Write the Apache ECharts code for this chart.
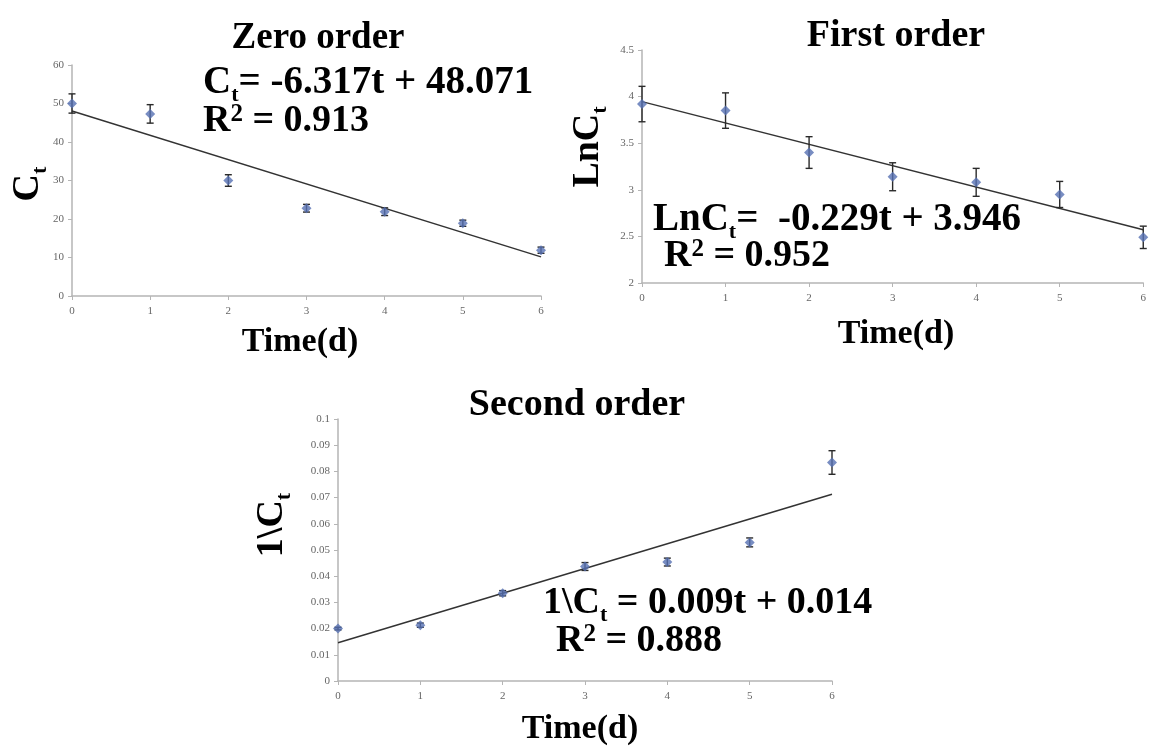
<!DOCTYPE html>
<html>
<head>
<meta charset="utf-8">
<script src="https://cdn.jsdelivr.net/npm/echarts@6/dist/echarts.min.js"></script>
<style>
html,body{margin:0;padding:0;background:#fff;}
#chart{width:1149px;height:749px;}
</style>
</head>
<body>
<div id="chart"></div>
<script>
// ---- data ----
const times = [0, 1, 2, 3, 4, 5, 6];
const xTicks = [0, 1, 2, 3, 4, 5, 6];

const zeroVals = [50, 47.3, 30, 22.8, 21.9, 18.9, 11.9];
const zeroErr = [2.5, 2.4, 1.5, 1.0, 1.0, 0.8, 0.8];
const zeroFit = [48.071, -6.317]; // intercept, slope

const firstVals = [3.92, 3.85, 3.40, 3.14, 3.08, 2.95, 2.49];
const firstErr = [0.19, 0.19, 0.17, 0.15, 0.15, 0.14, 0.12];
const firstFit = [3.946, -0.229];

const secondVals = [0.0200, 0.0213, 0.0335, 0.0437, 0.0454, 0.0529, 0.0834];
const secondErr = [0.0005, 0.0008, 0.0010, 0.0015, 0.0015, 0.0017, 0.0045];
const secondFit = [0.0146, 0.00945];

const zeroTicks = [0, 10, 20, 30, 40, 50, 60];
const firstTicks = [2, 2.5, 3, 3.5, 4, 4.5];
const secondTicks = [0, 0.01, 0.02, 0.03, 0.04, 0.05, 0.06, 0.07, 0.08, 0.09, 0.1];

// ---- helpers ----
const SERIF = 'Liberation Serif';
const MARK = '#5670b3';

function pts(vals) { return times.map((t, i) => [t, vals[i]]); }
function errs(vals, e) { return times.map((t, i) => [t, vals[i] - e[i], vals[i] + e[i]]); }
function fitLine(fit) { return [[times[0], fit[0] + fit[1] * times[0]], [times[times.length - 1], fit[0] + fit[1] * times[times.length - 1]]]; }

function errRender(params, api) {
  const x = api.value(0);
  const lo = api.coord([x, api.value(1)]);
  const hi = api.coord([x, api.value(2)]);
  const w = 3.5;
  const st = { stroke: '#2a2a2a', lineWidth: 1.4 };
  return {
    type: 'group',
    children: [
      { type: 'line', shape: { x1: lo[0], y1: lo[1], x2: hi[0], y2: hi[1] }, style: st },
      { type: 'line', shape: { x1: hi[0] - w, y1: hi[1], x2: hi[0] + w, y2: hi[1] }, style: st },
      { type: 'line', shape: { x1: lo[0] - w, y1: lo[1], x2: lo[0] + w, y2: lo[1] }, style: st }
    ]
  };
}

function xAxis(gi) {
  return {
    type: 'value', gridIndex: gi, min: xTicks[0], max: xTicks[xTicks.length - 1], interval: 1,
    axisLine: { show: true, lineStyle: { color: '#b5b5b5', width: 1.5 } },
    axisTick: { show: true, length: 4, lineStyle: { color: '#b5b5b5' } },
    axisLabel: { color: '#666', fontSize: 11, fontFamily: SERIF, margin: 10 },
    splitLine: { show: false }
  };
}
function yAxis(gi, ticks, dec) {
  return {
    type: 'value', gridIndex: gi, min: ticks[0], max: ticks[ticks.length - 1],
    interval: +(ticks[1] - ticks[0]).toFixed(4),
    axisLine: { show: true, lineStyle: { color: '#b5b5b5', width: 1.5 } },
    axisTick: { show: true, length: 4, lineStyle: { color: '#b5b5b5' } },
    axisLabel: { color: '#666', fontSize: 11, fontFamily: SERIF, margin: 8,
      formatter: v => String(+v.toFixed(dec)) },
    splitLine: { show: false }
  };
}

function seriesFor(gi, vals, e, fit) {
  return [
    { type: 'line', xAxisIndex: gi, yAxisIndex: gi, data: fitLine(fit), symbol: 'none',
      lineStyle: { color: '#333', width: 1.5 }, silent: true, z: 2 },
    { type: 'custom', xAxisIndex: gi, yAxisIndex: gi, data: errs(vals, e), renderItem: errRender, z: 3 },
    { type: 'scatter', xAxisIndex: gi, yAxisIndex: gi, data: pts(vals), symbol: 'diamond', symbolSize: 10,
      itemStyle: { color: MARK }, z: 4 }
  ];
}

// ---- text ----
const F = 38;
function makeRich(fs) {
  return {
    m: { fontFamily: SERIF, fontWeight: 'bold', fontSize: fs, lineHeight: 46, color: '#111' },
    s: { fontFamily: SERIF, fontWeight: 'bold', fontSize: 22, lineHeight: 22, verticalAlign: 'bottom', color: '#111' },
    p: { fontFamily: SERIF, fontWeight: 'bold', fontSize: 25, lineHeight: 40, verticalAlign: 'top', padding: [4, 0, 0, 0], color: '#111' }
  };
}
function txt(x, baseline, text, opts) {
  opts = opts || {};
  const fs = opts.fs || F;
  return {
    type: 'text', x: x, y: baseline - 0.305 * fs,
    style: { text: text, rich: makeRich(fs), align: opts.align || 'left', verticalAlign: 'middle' }
  };
}
function vtxt(x, y, text) {
  return { type: 'text', x: x, y: y, rotation: Math.PI / 2,
    style: { text: text, rich: makeRich(F), align: 'center', verticalAlign: 'middle' } };
}

const graphics = [
  txt(318, 50, '{m|Zero order}', { align: 'center', fs: 37 }),
  txt(203, 95, '{m|C}{s|t}{m|= -6.317t + 48.071}', { fs: 39 }),
  txt(203, 133, '{m|R}{p|2}{m| = 0.913}'),
  txt(300, 353, '{m|Time(d)}', { align: 'center', fs: 34 }),

  txt(896, 48, '{m|First order}', { align: 'center' }),
  txt(653, 232, '{m|LnC}{s|t}{m|=  -0.229t + 3.946}', { fs: 39 }),
  txt(664, 268, '{m|R}{p|2}{m| = 0.952}'),
  txt(896, 345, '{m|Time(d)}', { align: 'center', fs: 34 }),

  txt(577, 417, '{m|Second order}', { align: 'center' }),
  txt(543, 615, '{m|1\\C}{s|t}{m| = 0.009t + 0.014}'),
  txt(556, 653, '{m|R}{p|2}{m| = 0.888}'),
  txt(580, 740, '{m|Time(d)}', { align: 'center', fs: 34 }),

  vtxt(28, 184, '{m|C}{s|t}'),
  vtxt(588, 147, '{m|LnC}{s|t}'),
  vtxt(272, 525, '{m|1\\C}{s|t}')
];

const chart = echarts.init(document.getElementById('chart'), null, { renderer: 'canvas' });
chart.setOption({
  backgroundColor: '#fff',
  animation: false,
  grid: [
    { left: 72, top: 65, width: 469, height: 231 },
    { left: 642, top: 50, width: 508, height: 233 },
    { left: 338, top: 419, width: 494, height: 262 }
  ],
  xAxis: [xAxis(0), xAxis(1), xAxis(2)],
  yAxis: [yAxis(0, zeroTicks, 0), yAxis(1, firstTicks, 1), yAxis(2, secondTicks, 2)],
  series: [].concat(
    seriesFor(0, zeroVals, zeroErr, zeroFit),
    seriesFor(1, firstVals, firstErr, firstFit),
    seriesFor(2, secondVals, secondErr, secondFit)
  ),
  graphic: graphics
});
</script>
</body>
</html>
